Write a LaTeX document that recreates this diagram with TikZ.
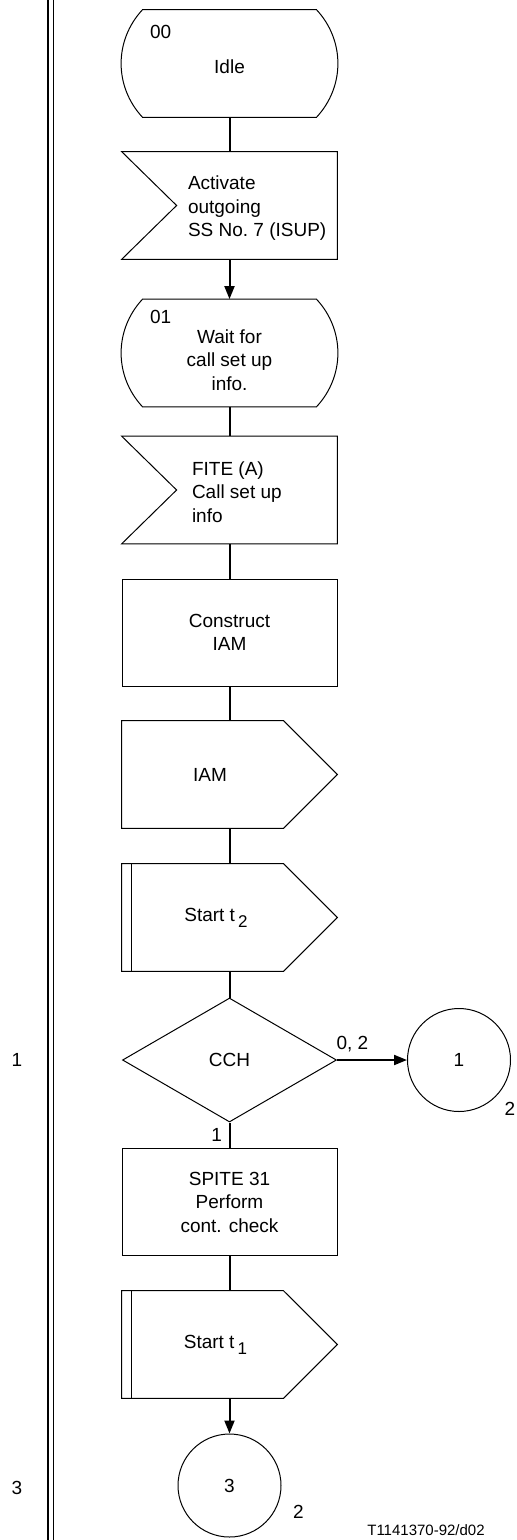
\documentclass[tikz,border=0pt]{standalone}
\usepackage{fontspec}
\setmainfont{Liberation Sans}
\usetikzlibrary{arrows.meta,positioning,shapes.geometric}
\newcommand{\sdlfont}{\fontsize{9.5}{11.75}\selectfont}
\newcommand{\subidx}[1]{\,\raisebox{-3pt}{\fontsize{8.5}{9}\selectfont #1}}

\tikzset{
    box/.style={minimum width=107.5pt,minimum height=53.5pt,inner sep=0pt},
    taskbox/.style={box,draw,line width=0.5pt,align=center},
    decision/.style={diamond,draw,line width=0.5pt,minimum width=107pt,minimum height=62pt,inner sep=0pt},
    connector/.style={circle,draw,line width=0.5pt,minimum size=51.5pt,inner sep=0pt},
    outline/.style={line width=0.5pt,line join=miter},
    flow/.style={line width=1pt},
    arrowflow/.style={flow,-{Triangle[length=6.5pt,width=5pt]}},
    txt/.style={inner sep=0pt,align=center},
    ltxt/.style={inner sep=0pt,align=left,anchor=west},
}

\begin{document}
\begin{tikzpicture}[x=0.5pt,y=-0.5pt,every node/.style={font=\sdlfont}]
    \useasboundingbox (0,0) rectangle (517,1540);

    % page rule
    \draw[line width=0.7pt] (48,0) -- (48,1540);
    \draw[line width=0.7pt] (53.5,0) -- (53.5,1540);
    \node (lbl1) at (17,1060) {1};
    \node (lbl3) at (17,1488) {3};

    % states
    \node[box,label={[txt,yshift=-1.75pt]center:Idle},
        label={[txt,anchor=north west,xshift=14pt,yshift=-7.5pt]north west:00}] (idle) at (229.5,63.5) {};
    \node[box,label={[txt,yshift=-3.5pt]center:{Wait for\\call set up\\info.}},
        label={[txt,anchor=north west,xshift=14pt,yshift=-5.5pt]north west:01}] (wait) at (229.5,353) {};

    % inputs
    \node[box,label={[ltxt,xshift=33pt,yshift=-1.5pt]west:{Activate\\outgoing\\SS No.~7 (ISUP)}}] (act) at (229.5,205.5) {};
    \node[box,label={[ltxt,xshift=35pt,yshift=-1pt]west:{FITE (A)\\Call set up\\info}}] (fite) at (229.5,490) {};

    % tasks
    \node[taskbox] (cons) at (229.5,632.5) {Construct\\IAM};
    \node[taskbox] (spite) at (229.5,1202) {SPITE 31\\Perform\\cont. check};

    % outputs
    \node[box,label={[txt,xshift=-9.75pt]center:IAM}] (iam) at (229.5,774.5) {};
    \node[box,label={[txt,xshift=-6.75pt]center:{Start t\subidx{2}}}] (t2) at (229.5,917.5) {};
    \node[box,label={[txt,xshift=-7pt]center:{Start t\subidx{1}}}] (t1) at (229.5,1344.5) {};

    % decision and connectors
    \node[decision] (cch) at (229.5,1060) {CCH};
    \node[connector,label={[txt,xshift=25.5pt,yshift=-24.5pt]center:2}] (con1) at (459,1060) {1};
    \node[connector,label={[txt,xshift=34.5pt,yshift=-13.25pt]center:2}] (con3) at (229.5,1485.5) {3};

    \foreach \n in {idle,wait}
        \draw[outline] ([xshift=10.5pt]\n.north west) -- ([xshift=-10.5pt]\n.north east)
            to[bend left=43] ([xshift=-10.5pt]\n.south east) -- ([xshift=10.5pt]\n.south west)
            to[bend left=43] cycle;
    \foreach \n in {act,fite}
        \draw[outline] (\n.north west) -- (\n.north east) -- (\n.south east)
            -- (\n.south west) -- ([xshift=27.5pt]\n.west) -- cycle;
    \foreach \n in {iam,t2,t1}
        \draw[outline] (\n.north west) -- ([xshift=-27pt]\n.north east) -- (\n.east)
            -- ([xshift=-27pt]\n.south east) -- (\n.south west) -- cycle;
    \foreach \n in {t2,t1}
        \draw[line width=0.8pt] ([xshift=5pt]\n.north west) -- ([xshift=5pt]\n.south west);

    \draw[flow] (idle) -- (act);
    \draw[arrowflow] (act) -- (wait);
    \draw[flow] (wait) -- (fite);
    \draw[flow] (fite) -- (cons);
    \draw[flow] (cons) -- (iam);
    \draw[flow] (iam) -- (t2);
    \draw[flow] (t2) -- (cch);
    \draw[arrowflow] (cch) -- node[above,pos=0.22] {0, 2} (con1);
    \draw[flow] (cch) -- node[left] {1} (spite);
    \draw[flow] (spite) -- (t1);
    \draw[arrowflow] (t1) -- (con3);

    \node[font=\fontsize{7.5}{9}\selectfont] (ref) at (426,1530) {T1141370-92/d02};
\end{tikzpicture}
\end{document}
